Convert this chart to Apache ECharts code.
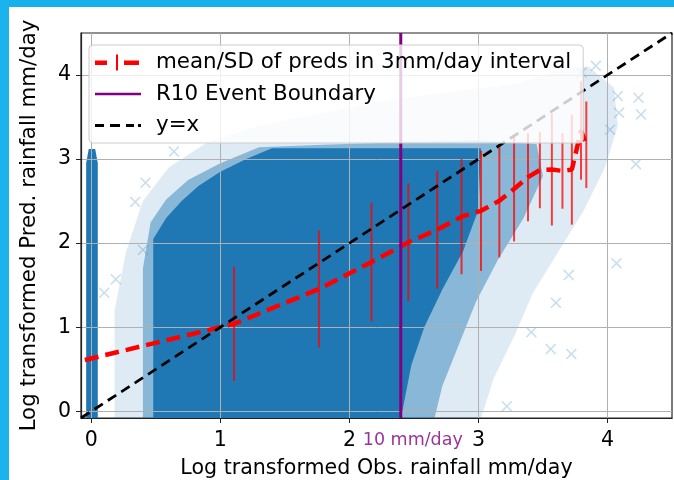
<!DOCTYPE html>
<html>
<head>
<meta charset="utf-8">
<title>Log transformed Pred. vs Obs. rainfall</title>
<style>
    html, body { margin: 0; padding: 0; background: #ffffff; }
    #main { width: 674px; height: 480px; }
</style>
</head>
<body>
<div id="main"></div>
<script src="https://cdn.jsdelivr.net/npm/echarts@6/dist/echarts.min.js"></script>
<script>
// axis range (same for both axes) and tick labels
var axisMin = -0.08;
var axisMax = 4.5;
var tickValues = [0, 1, 2, 3, 4];

// mean / SD of predictions per 3mm/day bin (log space)
var binX    = [-0.05, 1.106, 1.764, 2.171, 2.457, 2.681, 2.869, 3.02, 3.162, 3.276, 3.384, 3.476, 3.569, 3.651, 3.724, 3.795, 3.836];
var binMean = [0.61, 1.04, 1.455, 1.775, 2.01, 2.16, 2.315, 2.385, 2.505, 2.645, 2.785, 2.87, 2.875, 2.86, 2.875, 3.34, 3.17];
var binSD   = [null, 0.68, 0.695, 0.705, 0.70, 0.70, 0.685, 0.715, 0.675, 0.625, 0.525, 0.455, 0.665, 0.45, 0.655, 0.585, 0.515];

// R10 boundary = log1p(10)
var r10X = 2.398;
var r10Label = '10 mm/day';

// outline of the scatter cloud (obs, pred)
var zeroStrip = [[-0.04, -0.08], [-0.04, 2.95], [-0.02, 3.12], [0.03, 3.12], [0.05, 2.95], [0.05, -0.08]];
var cloudCore = [[0.48, -0.08], [0.48, 2.05], [0.58, 2.3], [0.7, 2.5], [0.83, 2.68], [1.0, 2.85], [1.2, 3.0], [1.4, 3.13],
    [3.02, 3.13], [3.0, 2.4], [2.88, 1.9], [2.72, 1.45], [2.58, 1.0], [2.48, 0.55], [2.4, -0.08]];
var cloudMid = [[0.4, -0.08], [0.4, 1.7], [0.46, 2.25], [0.58, 2.52], [0.75, 2.75], [1.0, 2.95], [1.3, 3.14], [1.8, 3.17],
    [2.4, 3.2], [3.0, 3.22], [3.45, 3.18], [3.5, 2.8], [3.35, 2.3], [3.15, 1.8], [2.98, 1.3], [2.85, 0.8], [2.72, 0.3], [2.66, -0.08]];
var cloudOuter = [[0.18, -0.08], [0.18, 1.2], [0.27, 1.9], [0.4, 2.5], [0.6, 2.9], [0.9, 3.2], [1.3, 3.4], [1.8, 3.55],
    [2.3, 3.7], [2.8, 3.8], [3.3, 3.9], [3.6, 4.05], [3.85, 4.1], [4.05, 3.85], [4.08, 3.4], [3.98, 2.9], [3.82, 2.4],
    [3.62, 1.9], [3.42, 1.4], [3.28, 0.9], [3.12, 0.4], [3.02, -0.08]];
// isolated crosses outside the cloud
var strayPoints = [[0.10, 1.41], [0.19, 1.57], [0.34, 2.49], [0.42, 2.72], [0.64, 3.09], [0.40, 1.92],
    [4.07, 1.76], [3.70, 1.62], [3.60, 1.29], [3.56, 0.74], [3.72, 0.68], [3.41, 0.94], [3.22, 0.06],
    [4.08, 3.75], [4.24, 3.73], [4.26, 3.53], [4.09, 3.55], [4.02, 3.35], [3.91, 4.11], [3.80, 4.03], [4.22, 2.94]];

// y = x reference
var diagLine = [[axisMin, axisMin], [axisMax, axisMax]];

var nameMean = 'mean/SD of preds in 3mm/day interval';
var nameR10 = 'R10 Event Boundary';
var nameDiag = 'y=x';

var font = 'DejaVu Sans';
var chart = echarts.init(document.getElementById('main'));

// filled outline drawn once through the axes
function cloudSeries(pts, color) {
    return {
        type: 'custom',
        silent: true,
        z: 1,
        data: pts,
        renderItem: function (params, api) {
            if (params.dataIndex !== 0) return;
            return {
                type: 'polygon',
                shape: { points: pts.map(function (p) { return api.coord(p); }) },
                style: { fill: color }
            };
        }
    };
}

var meanData = binX.map(function (x, i) { return [x, binMean[i]]; });
var barData = [];
binX.forEach(function (x, i) {
    if (binSD[i] != null) barData.push([x, binMean[i], binSD[i]]);
});

var crossIcon = 'path://M0,1L1,0L5,4L9,0L10,1L6,5L10,9L9,10L5,6L1,10L0,9L4,5Z';

var option = {
    animation: false,
    backgroundColor: '#ffffff',
    graphic: [
        { type: 'rect', left: 0, top: 0, shape: { width: 674, height: 7 }, style: { fill: '#14b1ea' }, silent: true },
        { type: 'rect', left: 0, top: 0, shape: { width: 9, height: 480 }, style: { fill: '#1ab3ec' }, silent: true }
    ],
    grid: {
        left: 81, right: 2, top: 33, bottom: 62,
        outerBoundsMode: 'none',
        containLabel: false,
        show: true,
        backgroundColor: 'transparent',
        borderColor: '#222222',
        borderWidth: 1.2
    },
    legend: {
        orient: 'vertical',
        left: 89,
        top: 45,
        z: 10,
        selectedMode: false,
        itemWidth: 46,
        itemHeight: 16,
        itemGap: 10.5,
        padding: [7, 12, 7, 6],
        backgroundColor: 'rgba(255,255,255,0.8)',
        borderColor: '#cccccc',
        borderWidth: 1,
        borderRadius: 4,
        itemStyle: { borderWidth: 0 },
        textStyle: { fontFamily: font, fontSize: 21.4, color: '#000000', padding: [0, 0, 0, 10] },
        data: [
            { name: nameMean, icon: 'path://M0,0M46,16M0,6h12v4.5h-12zM21,0h2v16h-2zM29,6h15v4.5h-15z', itemStyle: { color: '#ff0000' } },
            { name: nameR10, icon: 'path://M0,0M46,16M0,6.7h46v2.6h-46z', itemStyle: { color: '#800080' } },
            { name: nameDiag, icon: 'path://M0,0M46,16M0,6.6h9v2.8h-9zM15,6.6h10v2.8h-10zM31,6.6h8v2.8h-8zM43,6.6h3v2.8h-3z', itemStyle: { color: '#000000' } }
        ]
    },
    xAxis: {
        type: 'value',
        min: axisMin,
        max: axisMax,
        z: 2,
        name: 'Log transformed Obs. rainfall mm/day',
        nameLocation: 'middle',
        nameGap: 40,
        nameTextStyle: { fontFamily: font, fontSize: 20.6, color: '#000000' },
        axisLine: { onZero: false, lineStyle: { color: '#222222', width: 1.2 } },
        axisTick: { show: true, length: 5, customValues: tickValues, lineStyle: { color: '#222222' } },
        axisLabel: { customValues: tickValues, margin: 12, fontFamily: font, fontSize: 20.5, color: '#000000' },
        splitLine: { show: true, lineStyle: { color: '#b0b0b0', width: 1 } }
    },
    yAxis: {
        type: 'value',
        min: axisMin,
        max: axisMax,
        z: 2,
        name: 'Log transformed Pred. rainfall mm/day',
        nameLocation: 'middle',
        nameGap: 41,
        nameTextStyle: { fontFamily: font, fontSize: 21.3, color: '#000000' },
        axisLine: { show: true, onZero: false, lineStyle: { color: '#222222', width: 1.2 } },
        axisTick: { show: true, length: 5, customValues: tickValues, lineStyle: { color: '#222222' } },
        axisLabel: { customValues: tickValues, margin: 10, fontFamily: font, fontSize: 20.5, color: '#000000' },
        splitLine: { show: true, lineStyle: { color: '#b0b0b0', width: 1 } }
    },
    series: [
        cloudSeries(cloudOuter, 'rgba(31,119,180,0.15)'),
        cloudSeries(cloudMid, 'rgba(31,119,180,0.45)'),
        cloudSeries(cloudCore, '#1f77b4'),
        cloudSeries(zeroStrip, '#1f77b4'),
        {
            type: 'scatter',
            silent: true,
            z: 1,
            symbol: crossIcon,
            symbolSize: 11,
            itemStyle: { color: 'rgba(31,119,180,0.3)' },
            data: strayPoints
        },
        {
            // SD bars
            name: nameMean,
            type: 'custom',
            z: 3,
            silent: true,
            data: barData,
            renderItem: function (params, api) {
                var lo = api.coord([api.value(0), api.value(1) - api.value(2)]);
                var hi = api.coord([api.value(0), api.value(1) + api.value(2)]);
                return {
                    type: 'line',
                    shape: { x1: lo[0], y1: lo[1], x2: hi[0], y2: hi[1] },
                    style: { stroke: 'rgba(255,0,0,0.75)', lineWidth: 2 }
                };
            }
        },
        {
            name: nameMean,
            type: 'line',
            z: 4,
            silent: true,
            showSymbol: false,
            symbol: 'none',
            data: meanData,
            lineStyle: { color: '#ff0000', width: 4.5, type: [14, 7] }
        },
        {
            name: nameR10,
            type: 'line',
            z: 5,
            silent: true,
            symbol: 'none',
            data: [[r10X, axisMin], [r10X, axisMax]],
            lineStyle: { color: '#800080', width: 3 }
        },
        {
            type: 'scatter',
            z: 5,
            silent: true,
            clip: false,
            symbolSize: 1,
            itemStyle: { color: 'rgba(0,0,0,0)' },
            data: [[r10X, axisMin]],
            label: {
                show: true,
                position: 'bottom',
                distance: 13,
                offset: [12, 0],
                formatter: r10Label,
                fontFamily: font,
                fontSize: 17.5,
                color: '#800080'
            }
        },
        {
            name: nameDiag,
            type: 'line',
            z: 6,
            silent: true,
            symbol: 'none',
            data: diagLine,
            lineStyle: { color: '#000000', width: 2.8, type: [10, 6] }
        }
    ]
};

chart.setOption(option);
window.addEventListener('resize', function () {
    chart.resize();
});
</script>
</body>
</html>
